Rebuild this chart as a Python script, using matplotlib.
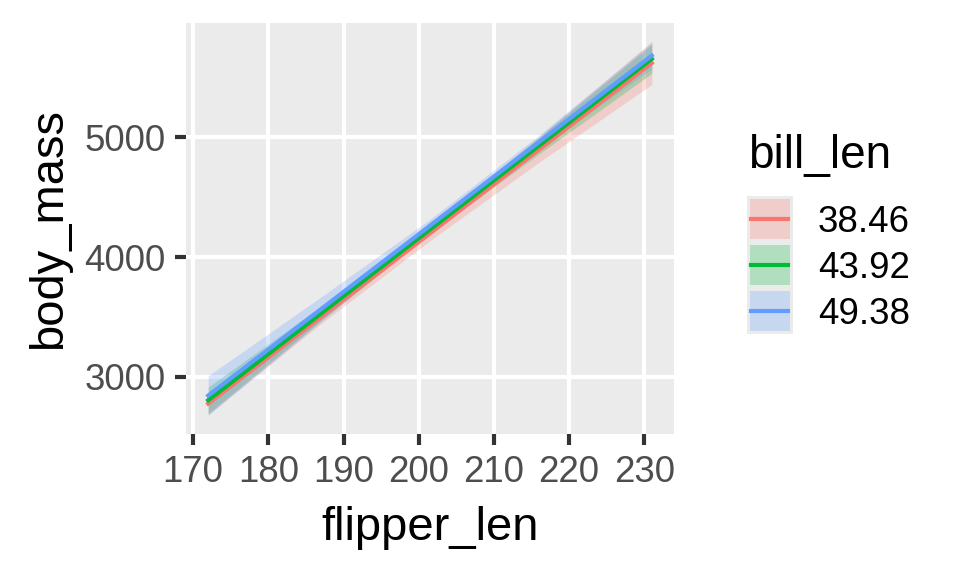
import numpy as np
import matplotlib
matplotlib.use('Agg')
import matplotlib.pyplot as plt
from matplotlib.patches import Rectangle

plt.rcParams['font.family'] = ['Liberation Sans', 'DejaVu Sans']

# predicted body_mass at a few flipper_len values, one series per bill_len level
flipper_len = [172, 187, 201.5, 216, 231]
bill_len_levels = ['38.46', '43.92', '49.38']
pred_38 = [2775, 3499, 4198, 4898, 5622]
pred_43 = [2803, 3528, 4230, 4931, 5656]
pred_49 = [2842, 3564, 4262, 4961, 5683]
# half-width of the confidence band at the same flipper_len values
half_38 = [92, 56, 61, 106, 180]
half_43 = [110, 60, 36, 69, 121]
half_49 = [165, 102, 53, 57, 110]

colors = ['#F8766D', '#00BA38', '#619CFF']
preds = [pred_38, pred_43, pred_49]
halves = [half_38, half_43, half_49]

fig = plt.figure(figsize=(3.2, 1.92), dpi=300)
ax = fig.add_axes([186 / 960, 1 - 434 / 576, (674 - 186) / 960, (434 - 22.7) / 576])
ax.set_facecolor('#EBEBEB')

x = np.array(flipper_len)
lo_all, hi_all = [], []
for p, h, c in zip(preds, halves, colors):
    p = np.array(p)
    h = np.array(h)
    ax.fill_between(x, p - h, p + h, color=c, alpha=0.25, lw=0, zorder=2)
    lo_all.append((p - h).min())
    hi_all.append((p + h).max())
for p, c in zip(preds, colors):
    ax.plot(x, p, color=c, lw=1.0, zorder=3)

# ggplot style 5% expansion
xr = x.max() - x.min()
ax.set_xlim(x.min() - 0.05 * xr, x.max() + 0.05 * xr)
ymin, ymax = min(lo_all), max(hi_all)
yr = ymax - ymin
ax.set_ylim(ymin - 0.05 * yr, ymax + 0.05 * yr)

ax.set_xticks(range(170, 231, 10))
ax.set_yticks([3000, 4000, 5000])
ax.grid(True, color='white', lw=1.0, zorder=1)
ax.set_axisbelow(True)
for s in ax.spines.values():
    s.set_visible(False)
ax.tick_params(length=2.75, width=1.0, color='#333333', labelsize=8.8,
               labelcolor='#4D4D4D', pad=2.2)
ax.set_xlabel('flipper_len', fontsize=11.3, labelpad=4.0)
ax.set_ylabel('body_mass', fontsize=11.3, labelpad=3.2)

# legend drawn in pixel coordinates
lax = fig.add_axes([0, 0, 1, 1])
lax.set_xlim(0, 960)
lax.set_ylim(576, 0)
lax.axis('off')
lax.text(748, 168, 'bill_len', fontsize=11, ha='left', va='baseline')
for i, (lab, c) in enumerate(zip(bill_len_levels, colors)):
    y0 = 196 + 46 * i
    lax.add_patch(Rectangle((746.7, y0), 46, 46, color='#EBEBEB', lw=0))
    lax.add_patch(Rectangle((749.7, y0 + 3), 40, 40, color=c, alpha=0.25, lw=0))
    lax.plot([751, 788], [y0 + 23, y0 + 23], color=c, lw=1.0)
    lax.text(818, y0 + 23, lab, fontsize=8.8, ha='left', va='center_baseline')

fig.savefig('out.png', dpi=300)
